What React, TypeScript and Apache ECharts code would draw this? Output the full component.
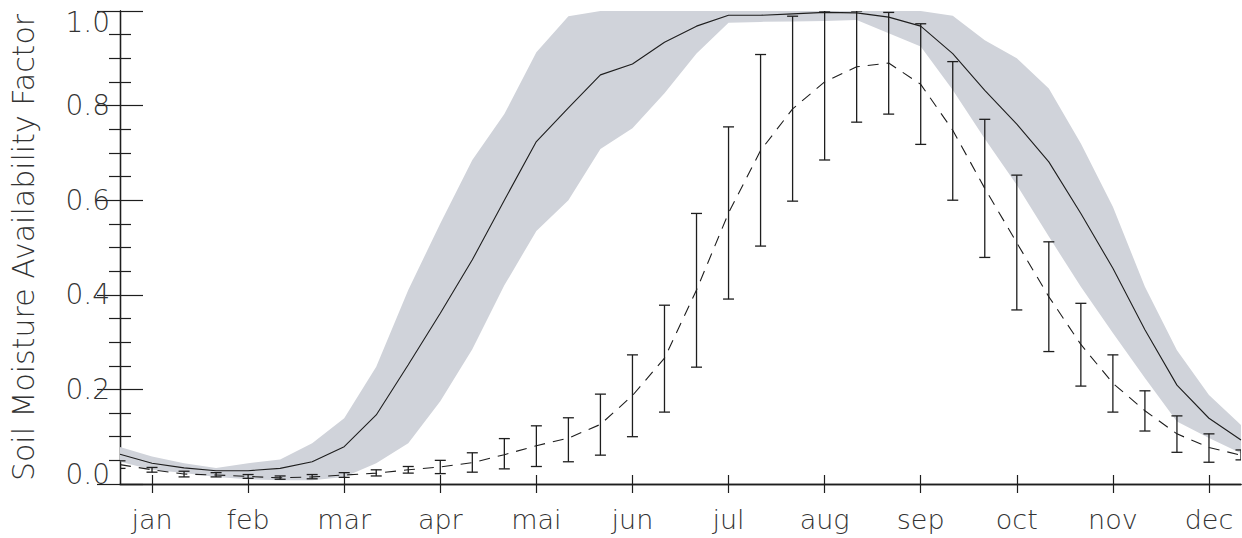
import React, { useEffect, useRef } from "react";
import * as echarts from "echarts";

// x index: 36 dekads (0..35); month ticks at index 1,4,...,34
const months = ["jan", "feb", "mar", "apr", "mai", "jun", "jul", "aug", "sep", "oct", "nov", "dec"];
const monthPos = [1, 4, 7, 10, 13, 16, 19, 22, 25, 28, 31, 34];
const yTicks = [0, 0.2, 0.4, 0.6, 0.8, 1.0];

// solid line (central value of the grey band)
const solidLine = [
  0.063, 0.044, 0.034, 0.028, 0.028, 0.033, 0.047, 0.079, 0.146, 0.252, 0.361, 0.474,
  0.6, 0.724, 0.795, 0.865, 0.888, 0.934, 0.968, 0.991, 0.991, 0.994, 0.997, 0.996,
  0.987, 0.968, 0.91, 0.832, 0.761, 0.681, 0.572, 0.456, 0.326, 0.209, 0.139, 0.093,
];
// grey band bounds
const bandHigh = [
  0.078, 0.058, 0.044, 0.034, 0.044, 0.052, 0.086, 0.139, 0.248, 0.41, 0.551, 0.685,
  0.782, 0.913, 0.989, 1.0, 1.0, 1.0, 1.0, 1.0, 1.0, 1.0, 1.0, 1.0,
  1.0, 1.0, 0.99, 0.938, 0.9, 0.836, 0.72, 0.586, 0.417, 0.283, 0.188, 0.125,
];
const bandLow = [
  0.047, 0.03, 0.023, 0.015, 0.01, 0.008, 0.008, 0.015, 0.044, 0.086, 0.175, 0.285,
  0.42, 0.535, 0.6, 0.708, 0.752, 0.826, 0.91, 0.975, 0.977, 0.978, 0.979, 0.981,
  0.953, 0.925, 0.833, 0.73, 0.632, 0.523, 0.417, 0.319, 0.224, 0.132, 0.097, 0.065,
];
// dashed line (mean) with error bars
const meanLine = [
  0.041, 0.03, 0.021, 0.019, 0.016, 0.013, 0.015, 0.019, 0.023, 0.03, 0.036, 0.045,
  0.062, 0.081, 0.097, 0.126, 0.187, 0.266, 0.41, 0.573, 0.705, 0.793, 0.85, 0.882,
  0.89, 0.845, 0.748, 0.625, 0.51, 0.396, 0.295, 0.213, 0.155, 0.106, 0.077, 0.061,
];
const errLow = [
  0.033, 0.025, 0.015, 0.015, 0.012, 0.01, 0.011, 0.014, 0.017, 0.023, 0.022, 0.025,
  0.032, 0.037, 0.047, 0.061, 0.1, 0.152, 0.247, 0.391, 0.503, 0.598, 0.685, 0.765,
  0.782, 0.718, 0.6, 0.479, 0.368, 0.28, 0.207, 0.152, 0.112, 0.067, 0.046, 0.051,
];
const errHigh = [
  0.049, 0.035, 0.027, 0.024, 0.02, 0.017, 0.02, 0.024, 0.03, 0.037, 0.05, 0.066,
  0.096, 0.123, 0.14, 0.19, 0.273, 0.378, 0.572, 0.755, 0.908, 0.989, 1.0, 1.0,
  0.997, 0.973, 0.893, 0.771, 0.653, 0.512, 0.382, 0.273, 0.197, 0.144, 0.106, 0.072,
];

const INK = "#1e1e1e";
const TXT = "#333333";
const FONT = "DejaVu Sans";
const BAND = "#d0d3da";

function buildOption() {
  const idx = solidLine.map((_, i) => i);
  const bandData = idx.map((i) => [i, bandLow[i], bandHigh[i]]);
  const solidData = idx.map((i) => [i, solidLine[i]]);
  const meanData = idx.map((i) => [i, meanLine[i]]);
  const errData = idx.map((i) => [i, errLow[i], errHigh[i]]);

  const axisLine = { show: true, lineStyle: { color: INK, width: 1.3 } };
  const xBase = {
    type: "value" as const,
    min: 0,
    max: 35,
    axisLine,
    splitLine: { show: false },
    axisTick: {
      show: true,
      inside: true,
      length: 9,
      customValues: monthPos,
      lineStyle: { color: INK, width: 1.2 },
    },
  };
  const yBase = {
    type: "value" as const,
    min: 0,
    max: 1,
    interval: 0.2,
    axisLine,
    splitLine: { show: false },
    axisTick: { show: true, inside: true, length: 23, lineStyle: { color: INK, width: 1.2 } },
    minorTick: { show: true, splitNumber: 4, length: 11, lineStyle: { color: INK, width: 1.2 } },
  };
  const labelFont = { fontFamily: FONT, fontWeight: 200 as any, color: TXT };

  return {
    animation: false,
    backgroundColor: "#ffffff",
    grid: { left: 118, right: 1, top: 11, bottom: 54 },
    xAxis: [
      {
        ...xBase,
        position: "bottom",
        axisLabel: {
          show: true,
          customValues: monthPos,
          margin: 22,
          fontSize: 27,
          ...labelFont,
          formatter: (v: number) => months[monthPos.indexOf(Math.round(v))] ?? "",
        },
      },
      { ...xBase, position: "top", axisLabel: { show: false } },
    ],
    yAxis: [
      {
        ...yBase,
        position: "left",
        name: "Soil Moisture Availability Factor",
        nameLocation: "middle",
        nameGap: 82,
        nameTextStyle: { fontSize: 30, ...labelFont },
        axisLabel: {
          show: true,
          margin: 10,
          fontSize: 28,
          ...labelFont,
          formatter: (v: number) => {
            const s = v.toFixed(1);
            if (Math.abs(v - yTicks[yTicks.length - 1]) < 1e-9) return "{top|" + s + "}";
            if (Math.abs(v - yTicks[0]) < 1e-9) return "{bot|" + s + "}";
            return s;
          },
          rich: {
            top: { fontSize: 28, ...labelFont, padding: [22, 0, 0, 0] },
            bot: { fontSize: 28, ...labelFont, padding: [0, 0, 19, 0] },
          },
        },
      },
      { ...yBase, position: "right", axisLabel: { show: false } },
    ],
    series: [
      {
        type: "custom",
        data: bandData,
        z: 1,
        silent: true,
        clip: true,
        renderItem: (params: any, api: any) => {
          if (params.dataIndex !== 0) return null;
          const upper: number[][] = [];
          const lower: number[][] = [];
          for (let i = 0; i < bandData.length; i++) {
            upper.push(api.coord([bandData[i][0], bandData[i][2]]));
            lower.push(api.coord([bandData[i][0], bandData[i][1]]));
          }
          const pts = upper.concat(lower.reverse());
          return { type: "polygon", shape: { points: pts }, style: { fill: BAND, stroke: null } };
        },
      },
      {
        type: "line",
        data: solidData,
        symbol: "none",
        lineStyle: { color: INK, width: 1.1 },
        z: 3,
      },
      {
        type: "custom",
        data: errData,
        z: 4,
        clip: true,
        renderItem: (params: any, api: any) => {
          const x = api.value(0);
          const lo = api.coord([x, api.value(1)]);
          const hi = api.coord([x, api.value(2)]);
          const w = 5.5;
          const st = { stroke: INK, lineWidth: 1.3 };
          return {
            type: "group",
            children: [
              { type: "line", shape: { x1: lo[0], y1: lo[1], x2: hi[0], y2: hi[1] }, style: st },
              { type: "line", shape: { x1: lo[0] - w, y1: lo[1], x2: lo[0] + w, y2: lo[1] }, style: st },
              { type: "line", shape: { x1: hi[0] - w, y1: hi[1], x2: hi[0] + w, y2: hi[1] }, style: st },
            ],
          };
        },
      },
      {
        type: "line",
        data: meanData,
        symbol: "none",
        lineStyle: { color: INK, width: 1.1, type: [11, 8] },
        z: 5,
      },
    ],
  };
}

export default function App() {
  const ref = useRef<HTMLDivElement>(null);
  useEffect(() => {
    document.body.style.margin = "0";
    document.body.style.overflow = "hidden";
    const chart = echarts.init(ref.current!, null, { renderer: "svg" });
    chart.setOption(buildOption() as any);
    return () => chart.dispose();
  }, []);
  return <div ref={ref} style={{ width: 1242, height: 538 }} />;
}
